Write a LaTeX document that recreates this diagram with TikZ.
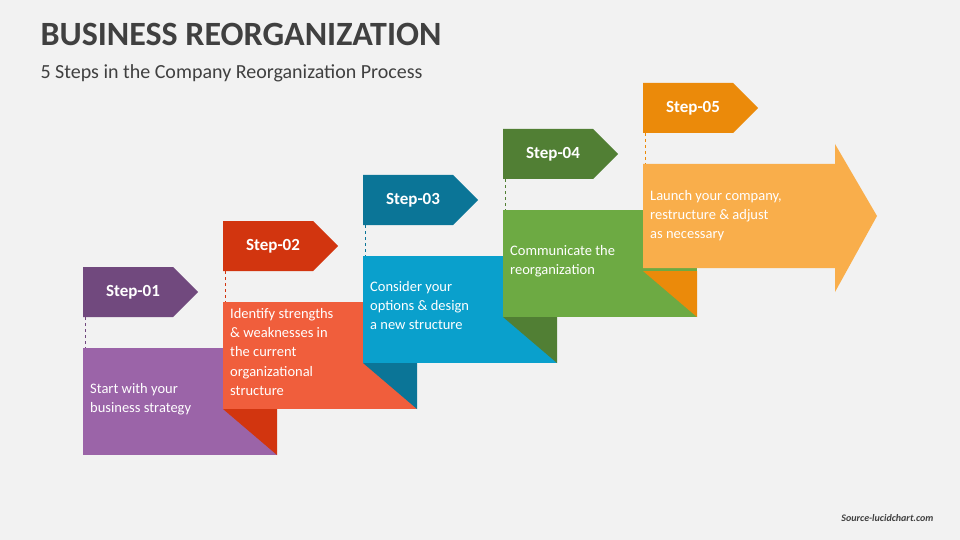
\documentclass[tikz,border=0pt]{standalone}
\usepackage{fontspec}
\setmainfont{Carlito}
\usetikzlibrary{positioning}
\definecolor{bgc}{HTML}{F2F2F2}
\definecolor{ttl}{HTML}{404040}
\definecolor{lA}{HTML}{9B64A8}\definecolor{dA}{HTML}{71497E}
\definecolor{lB}{HTML}{F05E3C}\definecolor{dB}{HTML}{D2350F}
\definecolor{lC}{HTML}{0AA0CC}\definecolor{dC}{HTML}{0B7597}
\definecolor{lD}{HTML}{6DAA43}\definecolor{dD}{HTML}{517F34}
\definecolor{lE}{HTML}{F9AE4B}\definecolor{dE}{HTML}{EB8A0A}
\begin{document}
\begin{tikzpicture}[x=1pt,y=-1pt]
% styles
\tikzset{
  tagtext/.style={text=white,font=\fontsize{17}{20}\selectfont\bfseries,anchor=center},
  boxtext/.style={text=white,font=\fontsize{14.5}{19.3}\selectfont,anchor=north west,
    inner sep=0pt,align=left},
  link/.style={dashed,line width=1pt}
}
\fill[bgc] (0,0) rectangle (960,540);
\node[anchor=west,text=ttl,font=\fontsize{34}{38}\selectfont\bfseries] (title) at (37,34) {BUSINESS REORGANIZATION};
\node[anchor=west,text=ttl,font=\fontsize{20}{24}\selectfont] (sub) at (37,73) {5 Steps in the Company Reorganization Process};

% steps: index / light / dark / text
\foreach \i/\lc/\dc/\txt in {
  0/lA/dA/{Start with your\\business strategy},
  1/lB/dB/{Identify strengths\\\& weaknesses in\\the current\\organizational\\structure},
  2/lC/dC/{Consider your\\options \& design\\a new structure},
  3/lD/dD/{Communicate the\\reorganization},
  4/lE/dE/{Launch your company,\\restructure \& adjust\\as necessary}}{
  \pgfmathsetmacro\xo{83+140*\i}
  \pgfmathsetmacro\yo{-46*\i}
  \begin{scope}[shift={(\xo,\yo)}]
    % fold under previous box
    \ifnum\i>0
      \fill[\dc] (0,455) -- (54,455) -- (54,501) -- cycle;
    \fi
    % box
    \ifnum\i<4
      \fill[\lc] (0,348) rectangle (194,455);
    \else
      \fill[\lc] (0,348) -- (192,348) -- (192,328) -- (234,400) -- (192,476) -- (192,452) -- (0,452) -- cycle;
    \fi
    \coordinate (box\i) at (0,348);
    % tag
    \fill[\dc] (0,267) -- (90,267) -- (115,292) -- (90,317) -- (0,317) -- cycle;
    \node[tagtext] (tag\i) at (50,292) {Step-0\the\numexpr\i+1\relax};
    \coordinate (foot\i) at (2,317);
    \draw[\dc,link] (foot\i) -- (foot\i |- box\i);
  \end{scope}
}
\node[boxtext] (txt0) at (90,383) {Start with your\\business strategy};
\node[boxtext] (txt1) at (230,308) {Identify strengths\\\& weaknesses in\\the current\\organizational\\structure};
\node[boxtext] (txt2) at (370,281) {Consider your\\options \& design\\a new structure};
\node[boxtext] (txt3) at (510,245) {Communicate the\\reorganization};
\node[boxtext] (txt4) at (650,190) {Launch your company,\\restructure \& adjust\\as necessary};
\node[anchor=east,text=ttl,font=\fontsize{10}{12}\selectfont\bfseries\itshape] (src) at (937,518) {Source-lucidchart.com};
\end{tikzpicture}
\end{document}
